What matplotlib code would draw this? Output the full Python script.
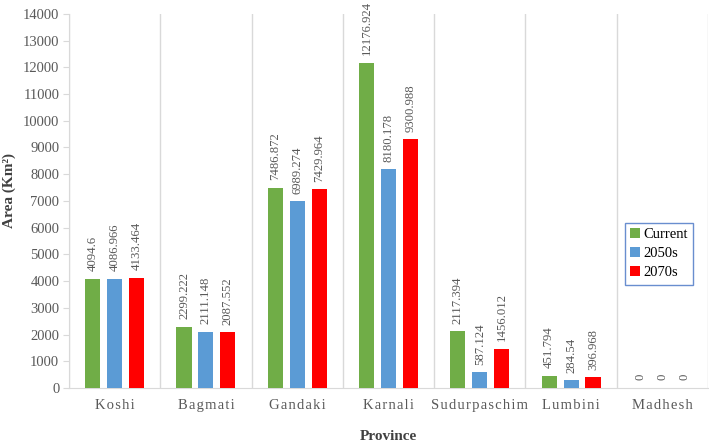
import matplotlib
matplotlib.use('Agg')
from matplotlib import pyplot as plt
import numpy as np

plt.rcParams['font.family'] = ['Liberation Serif', 'DejaVu Serif']

provinces = ['Koshi', 'Bagmati', 'Gandaki', 'Karnali', 'Sudurpaschim', 'Lumbini', 'Madhesh']
series = ['Current', '2050s', '2070s']
current = [4094.6, 2299.222, 7486.872, 12176.924, 2117.394, 451.794, 0]
s2050 = [4086.966, 2111.148, 6989.274, 8180.178, 587.124, 284.54, 0]
s2070 = [4133.464, 2087.552, 7429.964, 9300.988, 1456.012, 396.968, 0]
colors = ['#70AD47', '#5B9BD5', '#FF0000']

def spaced(s):
    # crude letter spacing like the original
    return '\u200a'.join(s)

fig = plt.figure(figsize=(7.09, 4.46), dpi=100)
ax = fig.add_axes([0.0973, 0.130, 0.9013, 0.839])

x = np.arange(len(provinces))
width = 0.165
offsets = [-0.24, 0, 0.24]
for vals, name, c, off in zip([current, s2050, s2070], series, colors, offsets):
    bars = ax.bar(x + off, vals, width, color=c, label=name, zorder=3)
    for b, v in zip(bars, vals):
        ax.annotate(str(v), (b.get_x() + b.get_width() / 2, v),
                    xytext=(0, 5.5), textcoords='offset points',
                    rotation=90, ha='center', va='bottom',
                    fontsize=9.2, color='#595959')

ax.set_xlim(-0.5, len(provinces) - 0.5)
ax.set_ylim(0, 14000)
ax.set_yticks(np.arange(0, 14001, 1000))
ax.set_xticks(x)
ax.set_xticklabels([spaced(p) for p in provinces])
ax.set_xticks(np.arange(-0.5, len(provinces)), minor=True)
ax.grid(True, which='minor', axis='x', color='#D9D9D9', lw=1, zorder=0)
ax.grid(False, which='major')

ax.tick_params(axis='x', which='both', length=0, labelsize=10.5,
               labelcolor='#595959', pad=8)
ax.tick_params(axis='y', length=4, color='#D9D9D9', labelsize=10.5,
               labelcolor='#595959', pad=3)
for s in ['top', 'right']:
    ax.spines[s].set_visible(False)
for s in ['left', 'bottom']:
    ax.spines[s].set_color('#D9D9D9')

ax.set_ylabel('Area (Km²)', fontsize=11, fontweight='bold', color='#404040')
ax.yaxis.set_label_coords(-0.083, 0.527)
ax.set_xlabel('Province', fontsize=11, fontweight='bold', color='#404040', labelpad=13)

leg = ax.legend(loc='upper right', bbox_to_anchor=(0.9765, 0.441), fontsize=10.5,
                frameon=True, fancybox=False, handlelength=0.7, handleheight=0.7,
                handletextpad=0.2, borderpad=0.35, labelspacing=0.4,
                borderaxespad=0)
leg.get_frame().set_edgecolor('#4472C4')
leg.get_frame().set_linewidth(1)

fig.savefig('out.png', dpi=100)
